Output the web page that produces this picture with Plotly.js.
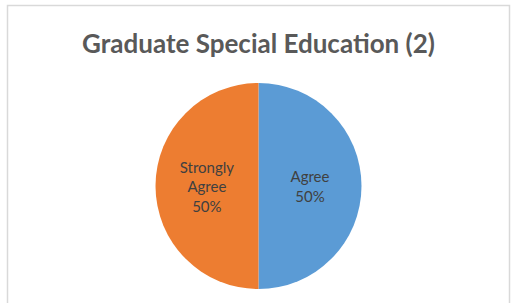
<!DOCTYPE html>
<html>
<head>
<meta charset="utf-8">
<script src="https://cdn.plot.ly/plotly-3.0.1.min.js"></script>
<style>html,body{margin:0;padding:0;background:#fff;}#chart{width:517px;height:303px;}</style>
</head>
<body>
<div id="chart"></div>
<script>
const categories = ["Agree", "Strongly Agree"];
const displayLabels = ["Agree", "Strongly<br>Agree"];
const values = [50, 50];
const colors = ["#5B9BD5", "#ED7D31"];
const chartTitle = "Graduate Special Education (2)";

const W = 517, H = 303;
const trace = {
  type: "pie",
  labels: categories,
  values: values,
  text: displayLabels,
  sort: false,
  direction: "clockwise",
  rotation: 0,
  marker: {colors: colors, line: {width: 0}},
  textinfo: "text+percent",
  texttemplate: "%{text}<br>%{percent:.0%}",
  textposition: "inside",
  insidetextorientation: "horizontal",
  insidetextfont: {family: "Lato, sans-serif", size: 15, color: "#404040"},
  hoverinfo: "none",
  showlegend: false,
  domain: {x: [0, 1], y: [(H - 289) / H, (H - 83) / H]}
};
const layout = {
  width: W, height: H,
  margin: {l: 0, r: 0, t: 0, b: 0},
  paper_bgcolor: "#ffffff",
  title: {
    text: "<b>" + chartTitle + "</b>",
    x: 0.5, xanchor: "center",
    y: 1 - 44 / H, yanchor: "middle",
    font: {family: "Lato, sans-serif", size: 26, color: "#595959"}
  },
  shapes: [{
    type: "rect", xref: "paper", yref: "paper",
    x0: 7.5 / W, x1: 509.5 / W, y0: -0.05, y1: 1 - 5.5 / H,
    line: {color: "#d9d9d9", width: 1.5}, fillcolor: "rgba(0,0,0,0)"
  }]
};
Plotly.newPlot("chart", [trace], layout, {staticPlot: true, displayModeBar: false});
</script>
</body>
</html>
